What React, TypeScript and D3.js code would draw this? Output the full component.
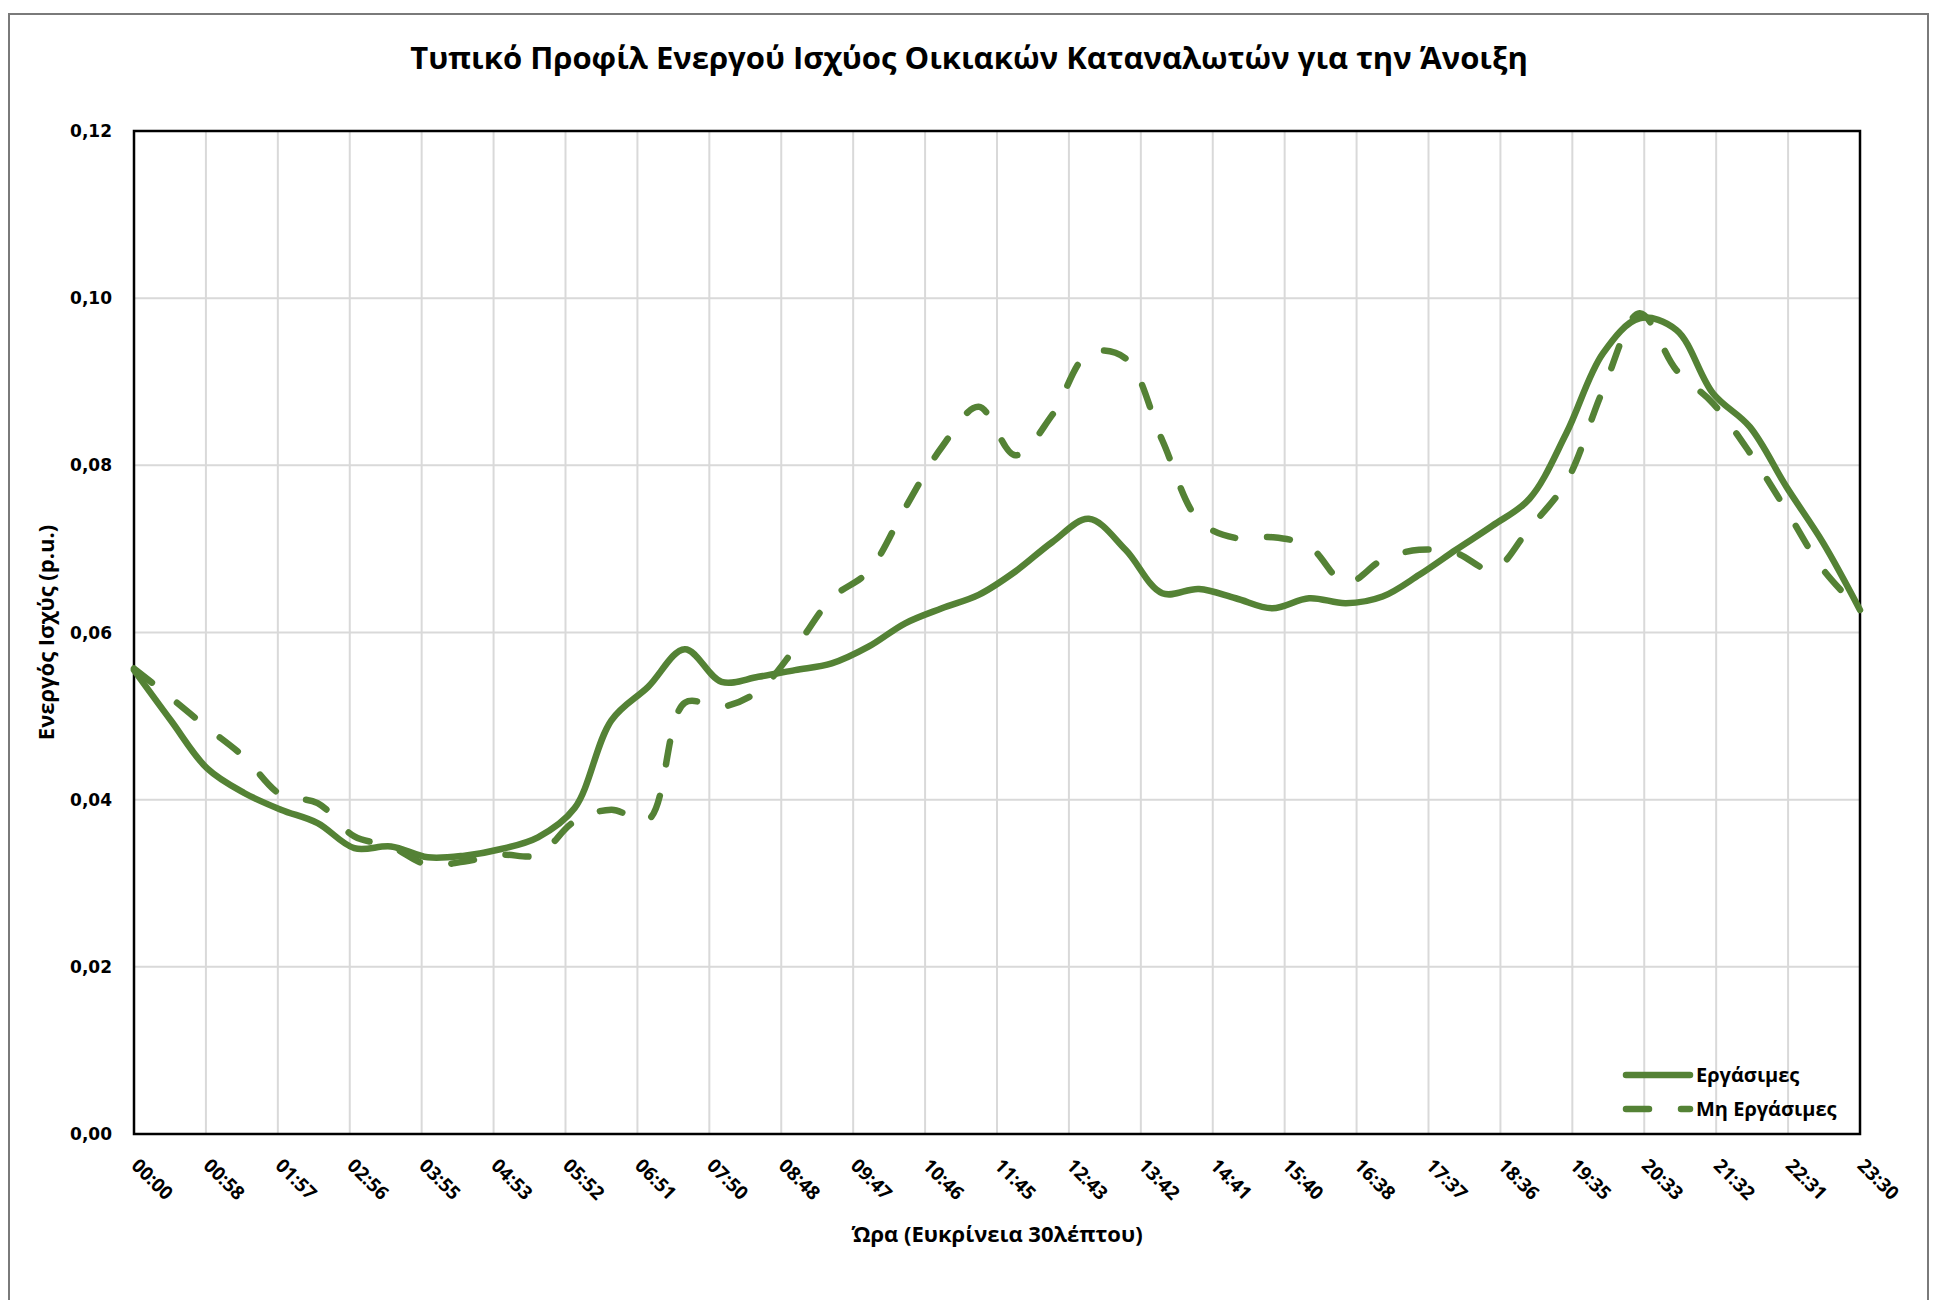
import React, { useEffect, useRef } from "react";
import * as d3 from "d3";

// half-hour categories
const times = [
  "00:00", "00:30", "01:00", "01:30", "02:00", "02:30", "03:00", "03:30",
  "04:00", "04:30", "05:00", "05:30", "06:00", "06:30", "07:00", "07:30",
  "08:00", "08:30", "09:00", "09:30", "10:00", "10:30", "11:00", "11:30",
  "12:00", "12:30", "13:00", "13:30", "14:00", "14:30", "15:00", "15:30",
  "16:00", "16:30", "17:00", "17:30", "18:00", "18:30", "19:00", "19:30",
  "20:00", "20:30", "21:00", "21:30", "22:00", "22:30", "23:00", "23:30",
];

const workdays = [
  0.0555, 0.0495, 0.0437, 0.0408, 0.0388, 0.0372, 0.0342, 0.0344,
  0.0331, 0.0333, 0.0341, 0.0355, 0.039, 0.0495, 0.0535, 0.058,
  0.0541, 0.0547, 0.0555, 0.0563, 0.0583, 0.0611, 0.0629, 0.0645,
  0.0673, 0.0708, 0.0736, 0.0699, 0.0647, 0.0652, 0.0641, 0.0629,
  0.0641, 0.0635, 0.0643, 0.0669, 0.0699, 0.0728, 0.076, 0.0838,
  0.0934, 0.0976, 0.0962, 0.0886, 0.0846, 0.0774, 0.0707, 0.0627,
];

const nonWorkdays = [
  0.0557, 0.0522, 0.0486, 0.0451, 0.0406, 0.0396, 0.0356, 0.0344,
  0.0322, 0.0326, 0.0334, 0.0334, 0.0374, 0.0388, 0.0376, 0.0516,
  0.0511, 0.053, 0.0581, 0.0641, 0.0673, 0.0749, 0.0822, 0.087,
  0.0812, 0.086, 0.0934, 0.0928, 0.083, 0.0734, 0.0713, 0.0714,
  0.0703, 0.0659, 0.0687, 0.0699, 0.0695, 0.0675, 0.0725, 0.078,
  0.089, 0.0982, 0.0914, 0.0874, 0.0815, 0.0746, 0.0675, 0.0627,
];

const tickLabels = [
  "00:00", "00:58", "01:57", "02:56", "03:55", "04:53", "05:52", "06:51",
  "07:50", "08:48", "09:47", "10:46", "11:45", "12:43", "13:42", "14:41",
  "15:40", "16:38", "17:37", "18:36", "19:35", "20:33", "21:32", "22:31",
  "23:30",
];

const yTicks = [0, 0.02, 0.04, 0.06, 0.08, 0.1, 0.12];

const seriesNames = ["Εργάσιμες", "Μη Εργάσιμες"];

const GREEN = "#548235";
const SANS = "'Open Sans', 'Noto Sans', sans-serif";
const WIDE = "'DejaVu Sans', Verdana, sans-serif";

const App = () => {
  const ref = useRef<SVGSVGElement>(null);

  useEffect(() => {
    const svg = d3.select(ref.current);
    svg.selectAll("*").remove();

    const left = 134;
    const right = 1860;
    const top = 131;
    const bottom = 1134;

    const toMin = (t: string) => +t.slice(0, 2) * 60 + +t.slice(3, 5);
    const maxMin = toMin(times[times.length - 1]);

    const x = d3.scaleLinear().domain([0, maxMin]).range([left, right]);
    const y = d3.scaleLinear().domain([0, 0.12]).range([bottom, top]);

    // outer chart frame
    svg
      .append("rect")
      .attr("x", 9)
      .attr("y", 14)
      .attr("width", 1919)
      .attr("height", 1320)
      .attr("fill", "white")
      .attr("stroke", "#7a7a7a")
      .attr("stroke-width", 2);

    // title
    svg
      .append("text")
      .attr("x", 969)
      .attr("y", 69)
      .attr("text-anchor", "middle")
      .attr("font-family", SANS)
      .attr("font-weight", "bold")
      .attr("font-size", 31)
      .text("Τυπικό Προφίλ Ενεργού Ισχύος Οικιακών Καταναλωτών για την Άνοιξη");

    const tickStep = maxMin / (tickLabels.length - 1);

    // grid
    const grid = svg.append("g");
    grid
      .selectAll("line.h")
      .data(yTicks.slice(1, -1))
      .enter()
      .append("line")
      .attr("x1", left)
      .attr("x2", right)
      .attr("y1", (d) => y(d))
      .attr("y2", (d) => y(d))
      .attr("stroke", "#d9d9d9")
      .attr("stroke-width", 2);
    grid
      .selectAll("line.v")
      .data(tickLabels.slice(1, -1))
      .enter()
      .append("line")
      .attr("x1", (d, i) => x((i + 1) * tickStep))
      .attr("x2", (d, i) => x((i + 1) * tickStep))
      .attr("y1", top)
      .attr("y2", bottom)
      .attr("stroke", "#d9d9d9")
      .attr("stroke-width", 2);

    // plot border
    svg
      .append("rect")
      .attr("x", left)
      .attr("y", top)
      .attr("width", right - left)
      .attr("height", bottom - top)
      .attr("fill", "none")
      .attr("stroke", "black")
      .attr("stroke-width", 2.5);

    // y tick labels
    svg
      .selectAll("text.ytick")
      .data(yTicks)
      .enter()
      .append("text")
      .attr("x", left - 22)
      .attr("y", (d) => y(d))
      .attr("dy", "0.36em")
      .attr("text-anchor", "end")
      .attr("font-family", WIDE)
      .attr("font-weight", "bold")
      .attr("font-size", 17)
      .text((d) => d3.format(".2f")(d).replace(".", ","));

    // x tick labels, rotated
    svg
      .selectAll("text.xtick")
      .data(tickLabels)
      .enter()
      .append("text")
      .attr("transform", (d, i) => `translate(${x(i * tickStep) + 1}, ${bottom + 28}) rotate(45)`)
      .attr("dy", "0.35em")
      .attr("font-family", SANS)
      .attr("font-weight", "bold")
      .attr("font-size", 19)
      .text((d) => d);

    // axis titles
    svg
      .append("text")
      .attr("x", (left + right) / 2)
      .attr("y", 1242)
      .attr("text-anchor", "middle")
      .attr("font-family", SANS)
      .attr("font-weight", "bold")
      .attr("font-size", 22)
      .text("Ώρα (Ευκρίνεια 30λέπτου)");

    svg
      .append("text")
      .attr("transform", `translate(54, ${(top + bottom) / 2}) rotate(-90)`)
      .attr("text-anchor", "middle")
      .attr("font-family", SANS)
      .attr("font-weight", "bold")
      .attr("font-size", 22)
      .text("Ενεργός Ισχύς (p.u.)");

    // lines
    const line = d3
      .line<number>()
      .x((d, i) => x(toMin(times[i])))
      .y((d) => y(d))
      .curve(d3.curveCatmullRom);

    svg
      .append("path")
      .attr("d", line(workdays))
      .attr("fill", "none")
      .attr("stroke", GREEN)
      .attr("stroke-width", 6.5)
      .attr("stroke-linecap", "round")
      .attr("stroke-linejoin", "round");

    svg
      .append("path")
      .attr("d", line(nonWorkdays))
      .attr("fill", "none")
      .attr("stroke", GREEN)
      .attr("stroke-width", 6.5)
      .attr("stroke-linecap", "round")
      .attr("stroke-linejoin", "round")
      .attr("stroke-dasharray", "23 32");

    // legend
    const legend = svg.append("g");
    seriesNames.forEach((name, i) => {
      const ly = 1075 + i * 34;
      legend
        .append("line")
        .attr("x1", 1626)
        .attr("x2", 1690)
        .attr("y1", ly)
        .attr("y2", ly)
        .attr("stroke", GREEN)
        .attr("stroke-width", 6.5)
        .attr("stroke-linecap", "round")
        .attr("stroke-dasharray", i === 1 ? "23 32" : null);
      legend
        .append("text")
        .attr("x", 1696)
        .attr("y", ly)
        .attr("dy", "0.35em")
        .attr("font-family", SANS)
        .attr("font-weight", "bold")
        .attr("font-size", 20)
        .text(name);
    });
  }, []);

  return (
    <div style={{ position: "absolute", left: 0, top: 0 }}>
      <svg ref={ref} width={1938} height={1300} />
    </div>
  );
};

export default App;
